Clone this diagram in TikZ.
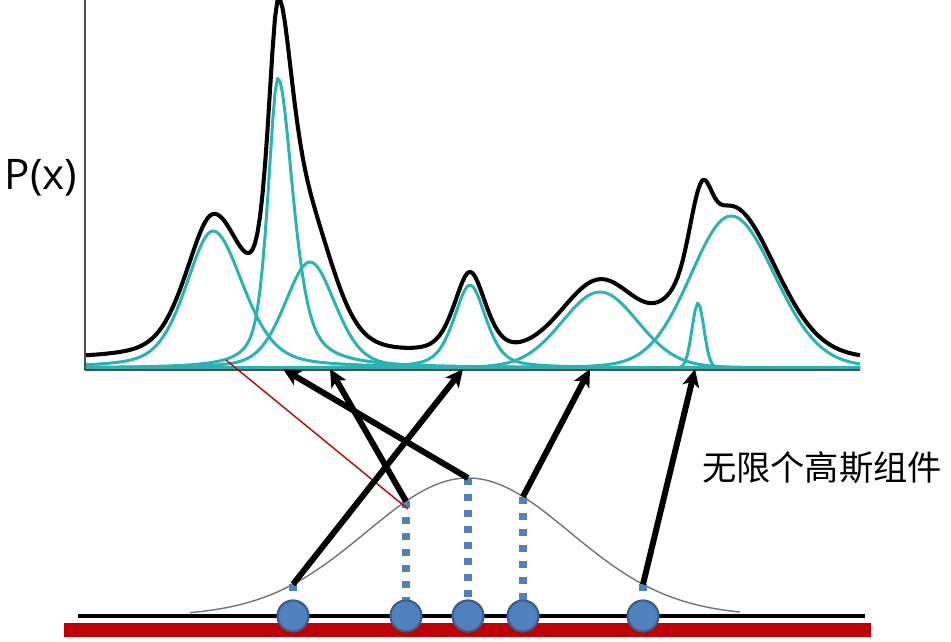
\documentclass[tikz,border=0pt]{standalone}
\usepackage{fontspec}
\setsansfont{Open Sans}
\newfontfamily\cjk{Noto Sans CJK SC}
\usetikzlibrary{arrows.meta}
\definecolor{gmmteal}{RGB}{40,180,180}
\definecolor{dotblue}{RGB}{79,129,189}
\definecolor{dotedge}{RGB}{56,93,138}
\definecolor{barred}{RGB}{192,0,0}
\definecolor{linkred}{RGB}{204,0,0}
\tikzset{
    comp/.style={gmmteal, line width=1.7pt},
    mixt/.style={black, line width=2.3pt},
    bell/.style={black!55, line width=0.8pt},
    axisln/.style={black!70, line width=1.1pt},
    arr/.style={-{Stealth[length=10pt,width=9.5pt,inset=2.5pt]}, line width=3.4pt},
    link/.style={linkred, line width=0.8pt},
    dot/.style={circle, draw=dotedge, fill=dotblue, line width=1.1pt,
                minimum size=0.62cm, inner sep=0pt},
    vdash/.style={dotblue, line width=4pt, dash pattern=on 4pt off 5.1pt},
    lbl/.style={font=\cjk\fontsize{19.5}{23}\selectfont, inner sep=0pt},
    ylbl/.style={font=\sffamily\fontsize{24}{28}\selectfont, inner sep=0pt},
}

\begin{document}
\begin{tikzpicture}[x=0.02cm, y=-0.02cm, line join=round,
    declare function={
        pk(\x,\cen,\hgt,\wl,\wr,\fr)=\hgt*((1-\fr)*exp(-0.693*min(((\x-\cen)/(\wl+(\wr-\wl)*(\x>\cen)))^2,60))
            +\fr/(1+((\x-\cen)/(\wl+(\wr-\wl)*(\x>\cen)))^2));
        tot(\x)=pk(\x,213,137,32,36,.4)+pk(\x,278,290,12,18,.6)+pk(\x,310,106,30,30,.3)
            +pk(\x,470,83,19,19,.5)+pk(\x,600,76,45,45,.1)+pk(\x,731,152,48,52,.1)
            +pk(\x,701,58,13,11,0)+8;
        bellf(\x)=616-138*exp(-0.5*((\x-468)/102)^2);
    }]
    \useasboundingbox (0,0) rectangle (951,642);

    % density plot
    \foreach \pc/\ph/\pl/\pr/\pe in {213/137/32/36/.4, 278/290/12/18/.6, 310/106/30/30/.3,
        470/83/19/19/.5, 600/76/45/45/.1, 731/152/48/52/.1, 698/65/7/7/0}
        \draw[comp] plot[domain=85:860, samples=311] (\x,{368-pk(\x,\pc,\ph,\pl,\pr,\pe)});
    \draw[mixt] plot[domain=85:860, samples=311] (\x,{368-tot(\x)});
    \draw[axisln] (85,0) -- (85,370) -- (860,370);
    \node[ylbl] (px) at (41,178) {P(x)};

    % base measure
    \fill[barred] (64,623) rectangle (871,637);
    \draw[black, line width=2.8pt] (78,616) -- (865,616);
    \draw[bell] plot[domain=190:740, samples=120] (\x,{bellf(\x)});

    \foreach \n/\px in {1/293, 2/406, 3/468, 4/523, 5/643}
        \coordinate (b\n) at (\px,{bellf(\px)});
    \foreach \n/\px in {1/293, 2/406, 3/468, 4/523, 5/643}
        \node[dot] (d\n) at (\px,616) {};
    \foreach \n in {1,...,5}
        \draw[vdash] (b\n) -- (d\n.north);
    \foreach \n in {1,...,5}
        \node[dot] at (d\n) {};

    % targets on the x axis
    \coordinate (t1) at (463,369);
    \coordinate (t2) at (330,369);
    \coordinate (t3) at (283,369);
    \coordinate (t4) at (590,369);
    \coordinate (t5) at (695,369);
    \coordinate (r0) at (408,509);
    \coordinate (r1) at (226,360);

    \draw[link] (r0) -- (r1);
    \foreach \n in {1,...,5}
        \draw[arr] (b\n) -- (t\n);

    \node[lbl] (cap) at (822,468) {无限个高斯组件};
\end{tikzpicture}
\end{document}
